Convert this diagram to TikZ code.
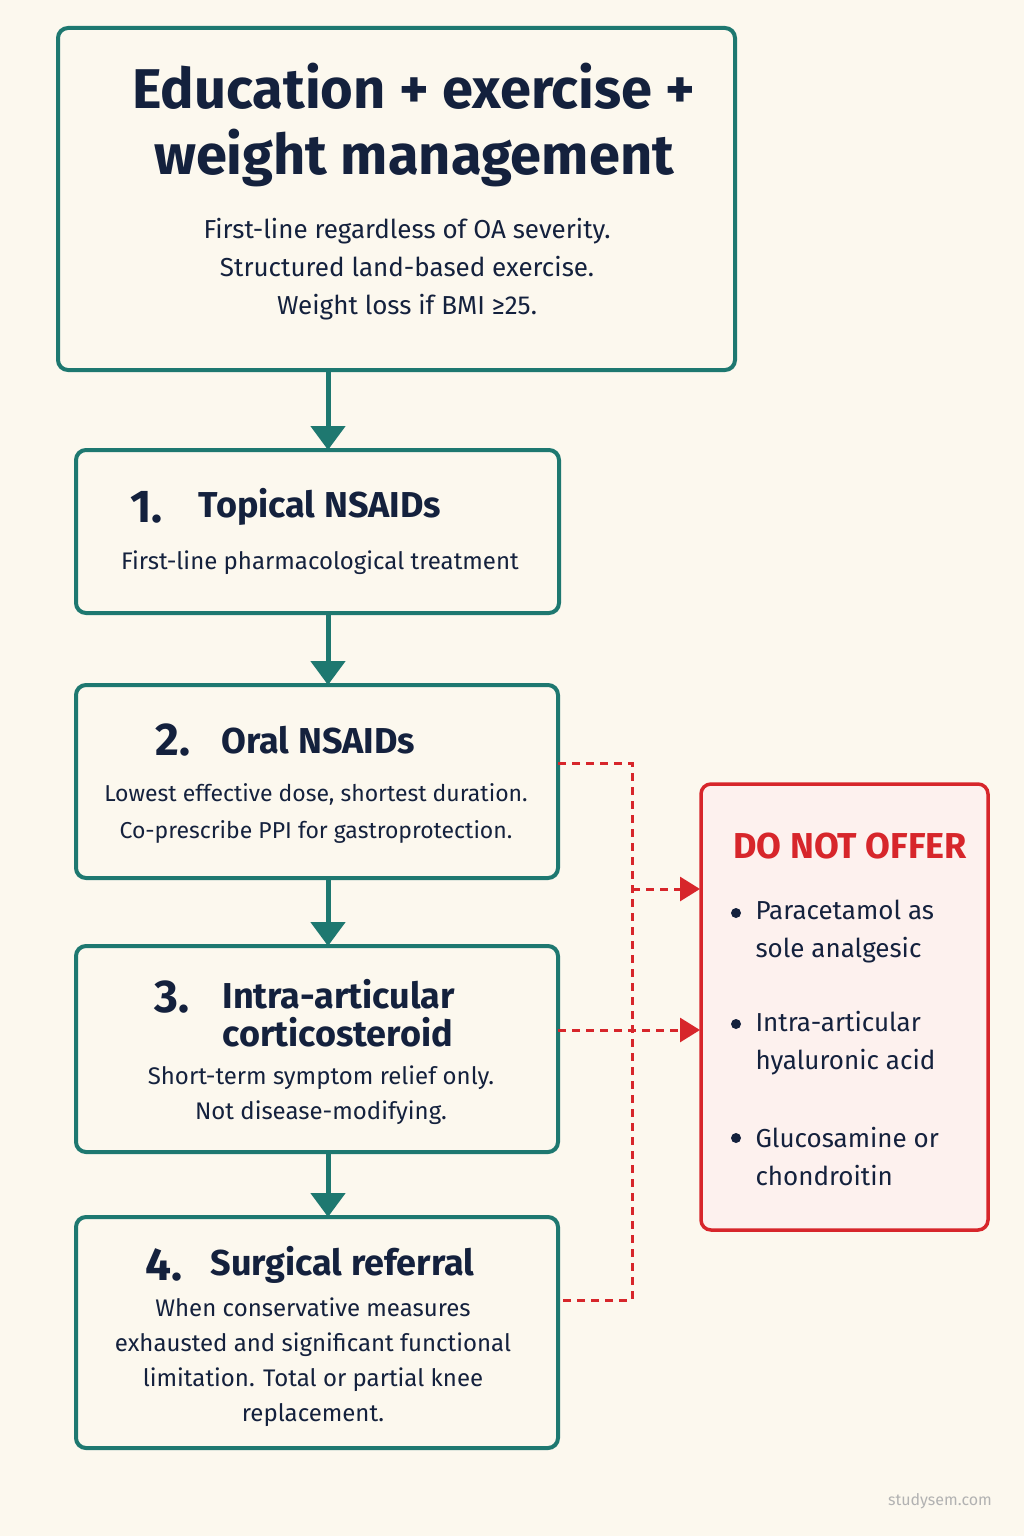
\documentclass[tikz,border=0pt]{standalone}
\usepackage{fontspec}
\setmainfont{Fira Sans}
\usetikzlibrary{arrows.meta}
\definecolor{teal1}{HTML}{1E7870}
\definecolor{navy}{HTML}{14213D}
\definecolor{redd}{HTML}{D7262B}
\definecolor{bg}{HTML}{FCF8EE}
\definecolor{pinkf}{HTML}{FDF1EE}
\begin{document}
\begin{tikzpicture}[x=1pt,y=-1pt,
 box/.style={draw=teal1,line width=4pt,rounded corners=10pt,fill=bg},
 arr/.style={teal1,line width=5pt,-{Triangle[length=24pt,width=34pt]}},
 rdash/.style={redd,line width=3pt,dash pattern=on 8pt off 6pt},
 darr/.style={rdash,-{Triangle[length=20pt,width=24pt]}},
 body/.style={text=navy,font=\fontsize{24}{35}\selectfont,align=center},
 head/.style={text=navy,font=\fontsize{36}{38}\selectfont\bfseries,anchor=west},
 num/.style={text=navy,font=\fontsize{46}{46}\selectfont\bfseries,anchor=west}]
\useasboundingbox[fill=bg] (0,0) rectangle (1024,1536);
\draw[box] (58,28) rectangle (735,370); \coordinate (t) at (328,370);
\node[text=navy,font=\fontsize{56}{66}\selectfont\bfseries,align=center] at (414,125) {Education + exercise +\\weight management};
\node[body,font=\fontsize{26}{38}\selectfont] at (407,269) {First-line regardless of OA severity.\\Structured land-based exercise.\\Weight loss if BMI ≥25.};
\draw[box] (76,450) rectangle (559,613);
\node[num] at (127,507) {1.}; \node[head] at (195,507) {Topical NSAIDs};
\node[body] at (320,563) {First-line pharmacological treatment};
\draw[box] (76,685) rectangle (558,878);
\node[num] at (152,740) {2.}; \node[head] at (218,740) {Oral NSAIDs};
\node[body,font=\fontsize{23}{37}\selectfont] at (316,813) {Lowest effective dose, shortest duration.\\Co-prescribe PPI for gastroprotection.};
\draw[box] (76,946) rectangle (558,1152);
\node[num] at (151,997) {3.}; \node[head,align=left] at (219,1013) {Intra-articular\\corticosteroid};
\node[body] at (321,1095) {Short-term symptom relief only.\\Not disease-modifying.};
\draw[box] (76,1217) rectangle (558,1448);
\node[num] at (142,1265) {4.}; \node[head] at (207,1265) {Surgical referral};
\node[body] at (313,1362) {When conservative measures\\exhausted and significant functional\\limitation. Total or partial knee\\replacement.};
\draw[arr] (t) -- (328,450);
\draw[arr] (328,613) -- (328,685);
\draw[arr] (328,878) -- (328,946);
\draw[arr] (328,1152) -- (328,1217);
\draw[draw=redd,line width=3.5pt,rounded corners=10pt,fill=pinkf] (701,784) rectangle (988,1230);
\node[text=redd,font=\fontsize{36}{40}\selectfont\bfseries,anchor=west] at (730,846) {DO NOT OFFER};
\foreach \y/\t in {932/{Paracetamol as\\sole analgesic},1043/{Intra-articular\\hyaluronic acid},1157/{Glucosamine or\\chondroitin}}{
 \fill[navy] (736,\y-19) circle (5);
 \node[text=navy,font=\fontsize{26}{38}\selectfont,align=left,anchor=west] at (752,\y) {\t};}
\draw[rdash] (558,763) -- (632,763) -- (632,1300) -- (558,1300);
\draw[darr] (632,889) -- (700,889);
\draw[darr] (558,1030) -- (700,1030);
\node[text=gray!60,font=\fontsize{16}{16}\selectfont] at (940,1501) {studysem.com};
\end{tikzpicture}
\end{document}
